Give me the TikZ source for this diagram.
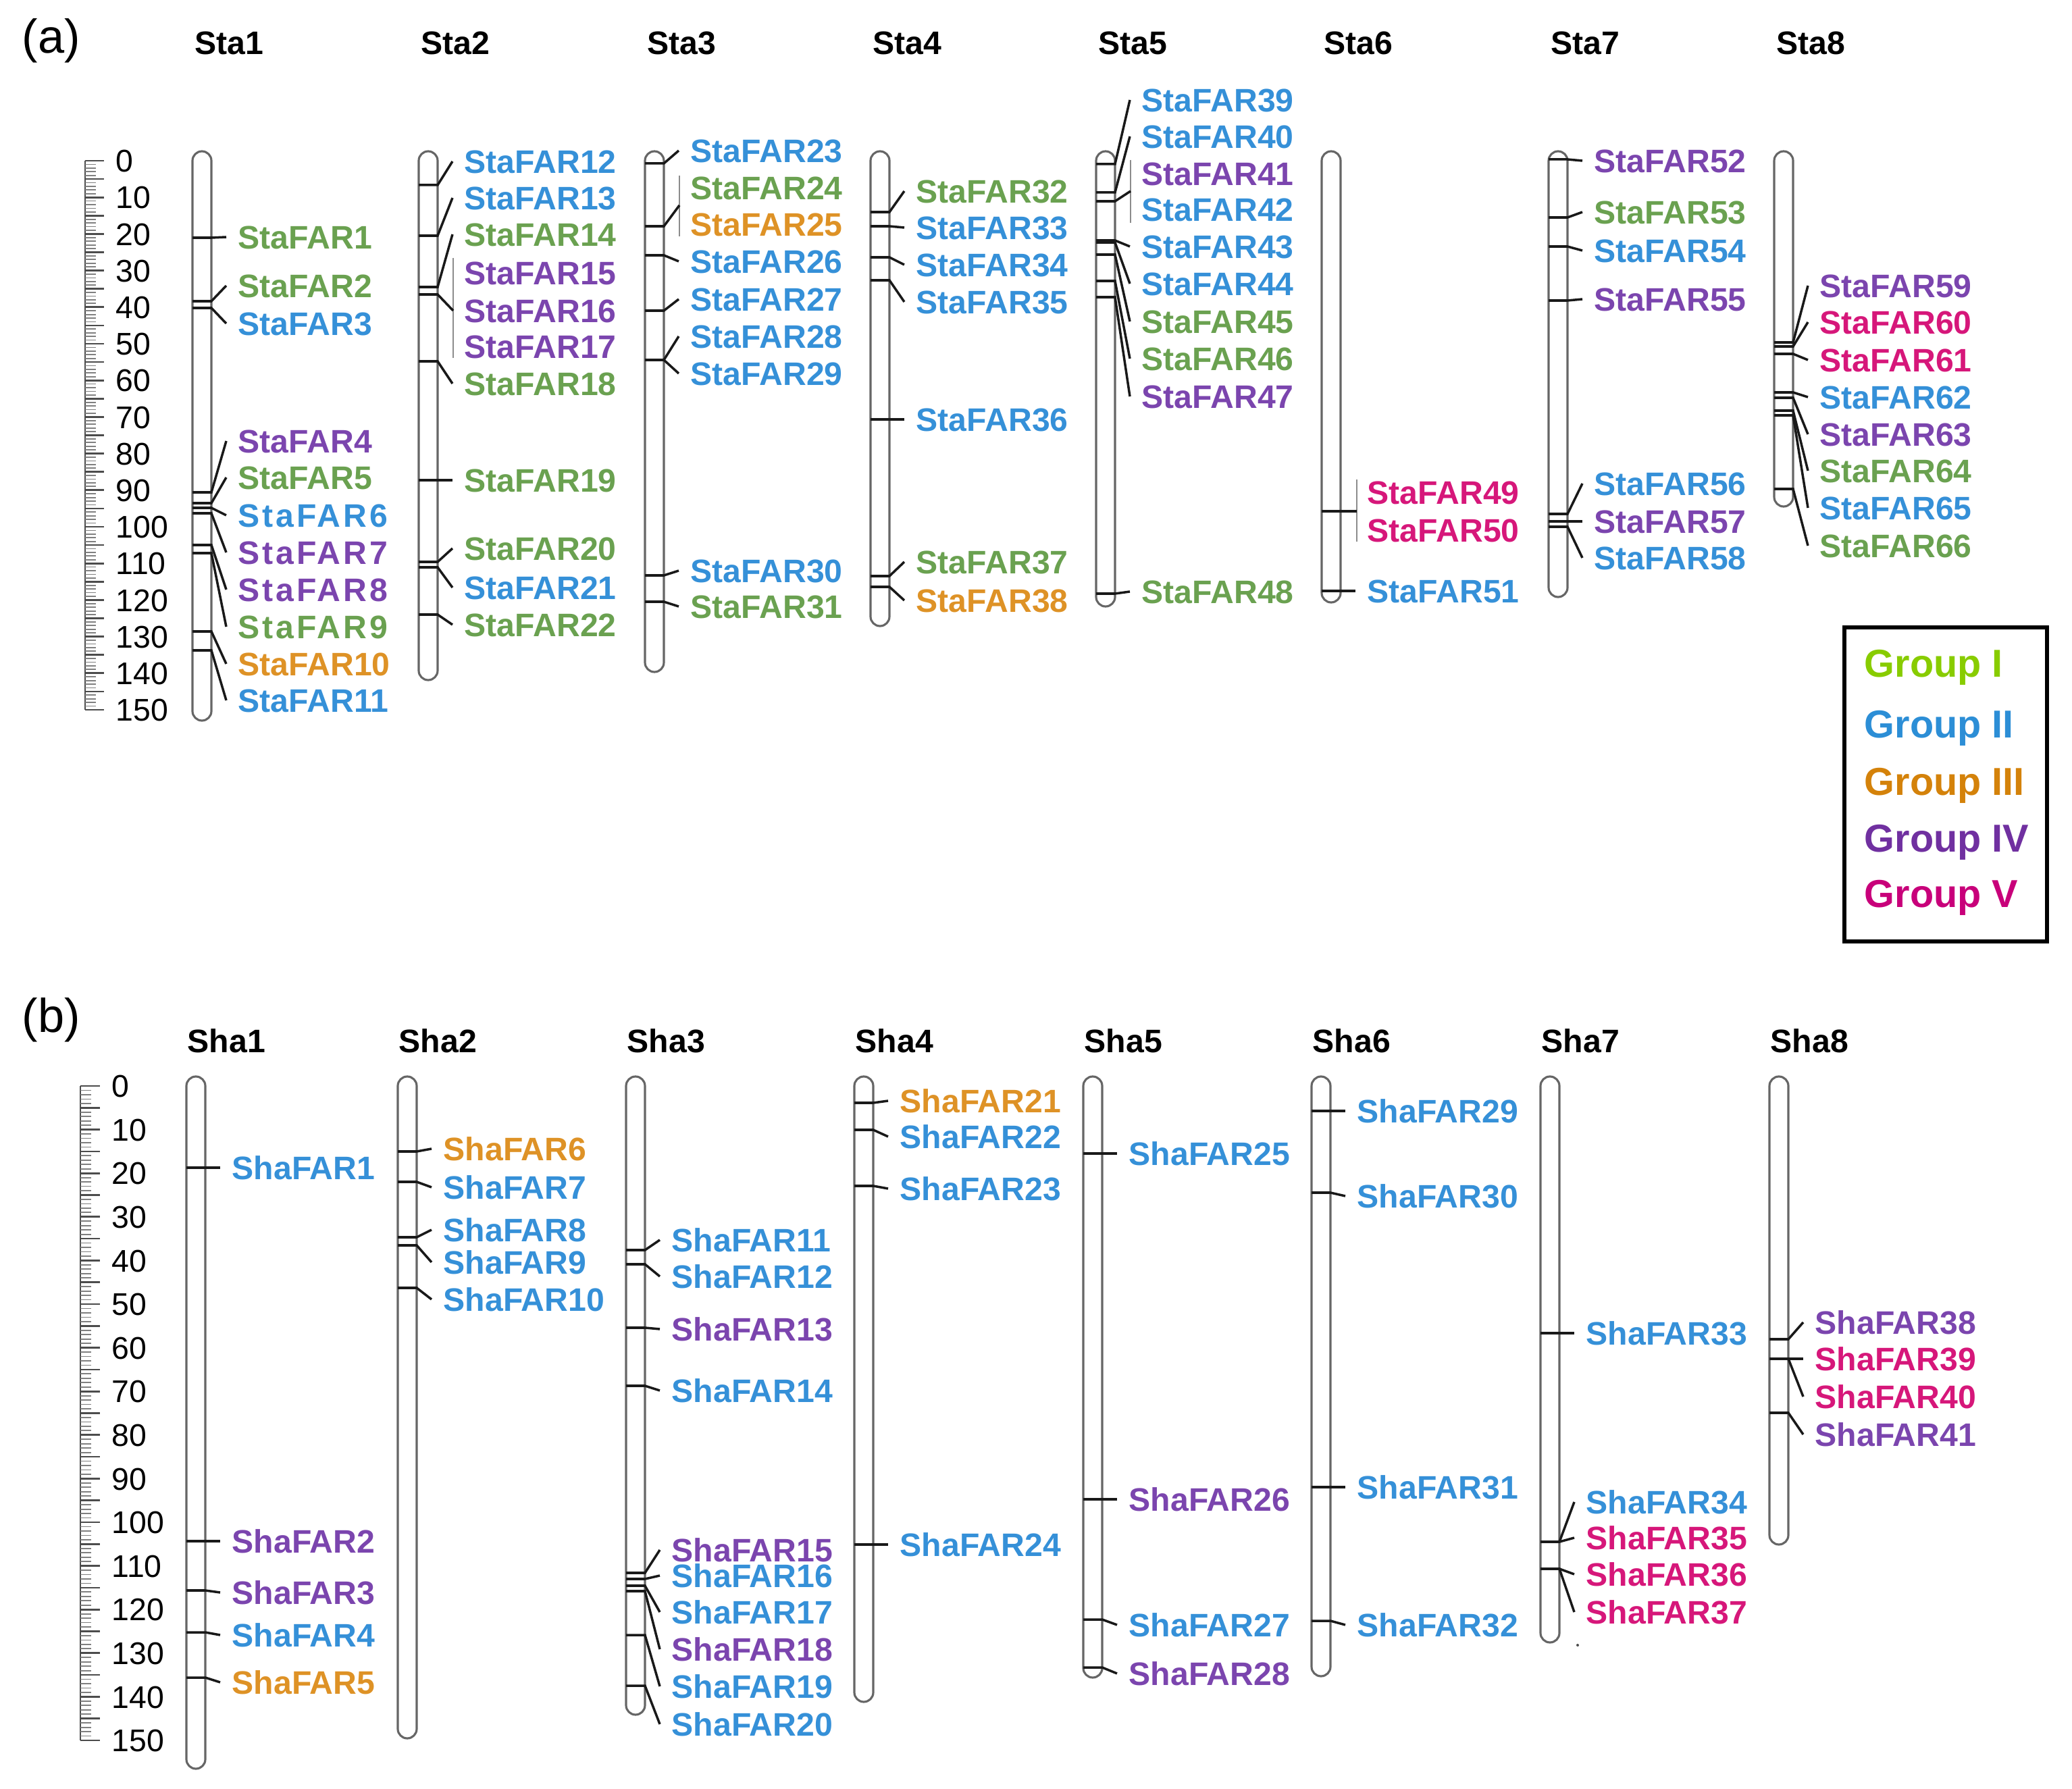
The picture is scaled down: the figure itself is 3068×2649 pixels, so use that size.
\documentclass[tikz,border=0pt]{standalone}
\usepackage{fontspec}
\setmainfont{Liberation Sans}

\definecolor{grpI}{HTML}{6AA150}
\definecolor{grpII}{HTML}{3590D8}
\definecolor{grpIII}{HTML}{DE9226}
\definecolor{grpIV}{HTML}{7B45AE}
\definecolor{grpV}{HTML}{D6177A}
\definecolor{legI}{HTML}{88CC00}
\definecolor{legII}{HTML}{2C8ED6}
\definecolor{legIII}{HTML}{D4820A}
\definecolor{legIV}{HTML}{7030A0}
\definecolor{legV}{HTML}{C8007A}

\newcommand{\labfont}{\fontsize{13.7pt}{16pt}\selectfont\bfseries}

\tikzset{
	chrom/.style={draw=black!60, line width=0.9pt, rounded corners=0.14cm},
	tick/.style={draw=black!90, line width=1pt},
	bracket/.style={draw=black!45, line width=0.7pt},
	lab/.style={anchor=west, inner sep=0pt, text height=9.9pt, text depth=0pt, font=\labfont},
	wide/.style={lab, font=\labfont\addfontfeature{LetterSpace=8}},
	ttl/.style={lab, text=black},
	num/.style={anchor=west, inner sep=0pt, text height=9.5pt, text depth=0pt, font=\fontsize{13.2pt}{15pt}\selectfont},
	panel/.style={anchor=base west, inner sep=0pt, font=\fontsize{20pt}{24pt}\selectfont},
	minortick/.style={draw=black!50, line width=0.5pt},
	majortick/.style={draw=black!70, line width=0.75pt},
	legtext/.style={anchor=west, inner sep=0pt, text height=11.8pt, text depth=0pt, font=\fontsize{16.4pt}{19pt}\selectfont\bfseries}
}

% genes on one chromosome: left edge, then name/colour/tick/label
\newcommand{\genes}[3][lab]{%
	\foreach \n/\c/\t/\l in {#3} {
		\node[#1, text=\c] (\n) at ({#2+67},\l) {\n};
		\draw[tick] (#2,\t) -- ({#2+28},\t) -- ([xshift=-0.17cm]\n.west);
	}}

\begin{document}
\begin{tikzpicture}[x=0.01cm, y=-0.01cm]
	\useasboundingbox (0,0) rectangle (3068,2649);

	% (a) ruler
	\node[panel] (pa) at (32,79) {(a)};
	\draw[majortick] (126,238) -- (126,1051);
	\foreach \u in {0,...,150} \draw[minortick] (126,{238+5.42*\u}) -- (142,{238+5.42*\u});
	\foreach \u in {0,5,...,150} \draw[majortick] (126,{238+5.42*\u}) -- (154,{238+5.42*\u});
	\foreach \u in {0,10,...,150} \node[num] (ra\u) at (171,{238+5.42*\u}) {\u};

	% (a) chromosomes
	\foreach \x/\b [count=\i] in {285/1067, 620/1007, 955/995, 1289/927, 1623/898, 1957/892, 2293/884, 2627/750} {
		\draw[chrom] (\x,224) rectangle ({\x+28},\b);
		\node[ttl] (Sta\i) at ({\x+3},63) {Sta\i};
	}

	\genes{285}{StaFAR1/grpI/352/351, StaFAR2/grpI/446/423, StaFAR3/grpII/456/479, StaFAR4/grpIV/729/653, StaFAR5/grpI/745/707, StaFAR10/grpIII/935/983, StaFAR11/grpII/963/1037}
	\genes[wide]{285}{StaFAR6/grpII/752/763, StaFAR7/grpIV/760/818, StaFAR8/grpIV/807/873, StaFAR9/grpI/819/928}

	\genes{620}{StaFAR12/grpII/274/239, StaFAR13/grpII/349/293, StaFAR14/grpI/425/347, StaFAR18/grpI/535/568, StaFAR19/grpI/711/711, StaFAR20/grpI/832/812, StaFAR21/grpII/840/870, StaFAR22/grpI/910/925}
	\foreach \n/\c/\l in {StaFAR15/grpIV/404, StaFAR16/grpIV/460, StaFAR17/grpIV/513}
		\node[lab, text=\c] (\n) at (687,\l) {\n};
	\coordinate (cl2) at (671,460);
	\draw[bracket] (671,382) -- (671,530);
	\draw[tick] (620,436) -- (648,436) -- (cl2);

	\genes{955}{StaFAR23/grpII/242/223, StaFAR26/grpII/378/387, StaFAR27/grpII/460/443, StaFAR28/grpII/533/498, StaFAR29/grpII/533/553, StaFAR30/grpII/852/845, StaFAR31/grpI/891/898}
	\foreach \n/\c/\l in {StaFAR24/grpI/278, StaFAR25/grpIII/332}
		\node[lab, text=\c] (\n) at (1022,\l) {\n};
	\coordinate (cl3) at (1006,304);
	\draw[bracket] (1006,260) -- (1006,350);
	\draw[tick] (955,335) -- (983,335) -- (cl3);

	\genes{1289}{StaFAR32/grpI/314/283, StaFAR33/grpII/335/337, StaFAR34/grpII/381/392, StaFAR35/grpII/415/447, StaFAR36/grpII/621/621, StaFAR37/grpI/853/832, StaFAR38/grpIII/869/889}

	\genes{1623}{StaFAR39/grpII/243/148, StaFAR40/grpII/285/202, StaFAR43/grpII/356/365, StaFAR44/grpII/359/420, StaFAR45/grpI/377/476, StaFAR46/grpI/416/531, StaFAR47/grpIV/440/587, StaFAR48/grpI/879/876}
	\foreach \n/\c/\l in {StaFAR41/grpIV/257, StaFAR42/grpII/310}
		\node[lab, text=\c] (\n) at (1690,\l) {\n};
	\coordinate (cl5) at (1674,283);
	\draw[bracket] (1674,237) -- (1674,330);
	\draw[tick] (1623,298) -- (1651,298) -- (cl5);

	\genes{1957}{StaFAR51/grpII/875/875}
	\foreach \n/\c/\l in {StaFAR49/grpV/729, StaFAR50/grpV/785}
		\node[lab, text=\c] (\n) at (2024,\l) {\n};
	\coordinate (cl6) at (2009,757);
	\draw[bracket] (2009,710) -- (2009,802);
	\draw[tick] (1957,757) -- (1985,757) -- (cl6);

	\genes{2293}{StaFAR52/grpIV/236/238, StaFAR53/grpI/322/314, StaFAR54/grpII/365/371, StaFAR55/grpIV/445/443, StaFAR56/grpII/761/716, StaFAR57/grpIV/772/772, StaFAR58/grpII/780/826}

	\genes{2627}{StaFAR59/grpIV/507/423, StaFAR60/grpV/513/477, StaFAR61/grpV/524/533, StaFAR62/grpII/581/588, StaFAR63/grpIV/589/643, StaFAR64/grpI/608/697, StaFAR65/grpII/615/752, StaFAR66/grpI/724/808}

	% legend
	\draw[line width=1.6pt] (2731,929) rectangle (3031,1394);
	\node[legtext, text=legI] (gI) at (2760,982) {Group I};
	\node[legtext, text=legII] (gII) at (2760,1072) {Group II};
	\node[legtext, text=legIII] (gIII) at (2760,1157) {Group III};
	\node[legtext, text=legIV] (gIV) at (2760,1241) {Group IV};
	\node[legtext, text=legV] (gV) at (2760,1323) {Group V};

	% (b) ruler
	\node[panel] (pb) at (32,1528) {(b)};
	\draw[majortick] (119,1608) -- (119,2577);
	\foreach \u in {0,...,150} \draw[minortick] (119,{1608+6.46*\u}) -- (135,{1608+6.46*\u});
	\foreach \u in {0,5,...,150} \draw[majortick] (119,{1608+6.46*\u}) -- (148,{1608+6.46*\u});
	\foreach \u in {0,10,...,150} \node[num] (rb\u) at (165,{1608+6.46*\u}) {\u};

	% (b) chromosomes
	\foreach \x/\b [count=\i] in {276/2619, 589/2574, 927/2539, 1265/2520, 1604/2484, 1942/2482, 2281/2432, 2620/2287} {
		\draw[chrom] (\x,1594) rectangle ({\x+28},\b);
		\node[ttl] (Sha\i) at ({\x+1},1541) {Sha\i};
	}

	\genes{276}{ShaFAR1/grpII/1729/1729, ShaFAR2/grpIV/2282/2282, ShaFAR3/grpIV/2355/2358, ShaFAR4/grpII/2417/2421, ShaFAR5/grpIII/2484/2491}
	\genes{589}{ShaFAR6/grpIII/1705/1701, ShaFAR7/grpII/1750/1758, ShaFAR8/grpII/1832/1821, ShaFAR9/grpII/1844/1869, ShaFAR10/grpII/1907/1924}
	\genes{927}{ShaFAR11/grpII/1851/1836, ShaFAR12/grpII/1872/1890, ShaFAR13/grpIV/1966/1968, ShaFAR14/grpII/2052/2059, ShaFAR15/grpIV/2329/2295, ShaFAR16/grpII/2338/2333, ShaFAR17/grpII/2348/2387, ShaFAR18/grpIV/2356/2442, ShaFAR19/grpII/2421/2497, ShaFAR20/grpII/2496/2553}
	\genes{1265}{ShaFAR21/grpIII/1633/1630, ShaFAR22/grpII/1673/1683, ShaFAR23/grpII/1756/1760, ShaFAR24/grpII/2287/2287}
	\genes{1604}{ShaFAR25/grpII/1708/1708, ShaFAR26/grpIV/2220/2220, ShaFAR27/grpII/2398/2406, ShaFAR28/grpIV/2469/2478}
	\genes{1942}{ShaFAR29/grpII/1645/1645, ShaFAR30/grpII/1766/1771, ShaFAR31/grpII/2202/2202, ShaFAR32/grpII/2400/2406}
	\genes{2281}{ShaFAR33/grpII/1974/1974, ShaFAR34/grpII/2283/2224, ShaFAR35/grpV/2283/2277, ShaFAR36/grpV/2323/2331, ShaFAR37/grpV/2323/2387}
	\fill[black!70] (2336,2436) circle (0.02cm);
	\genes{2620}{ShaFAR38/grpIV/1983/1958, ShaFAR39/grpV/2012/2012, ShaFAR40/grpV/2012/2068, ShaFAR41/grpIV/2092/2124}
\end{tikzpicture}
\end{document}
